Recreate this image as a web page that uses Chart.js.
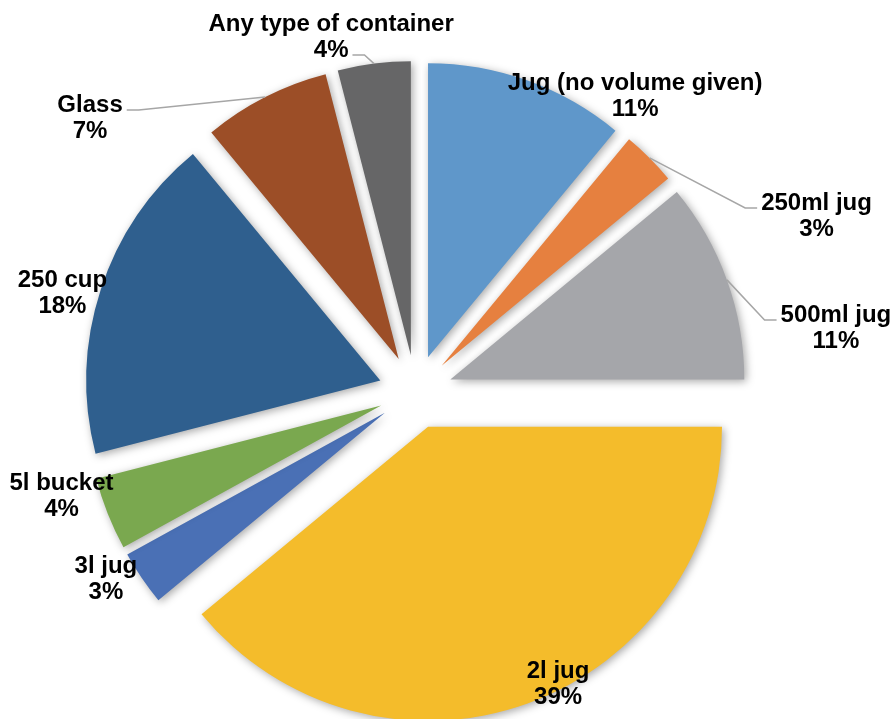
<!DOCTYPE html>
<html lang="en">
<head>
  <meta charset="UTF-8" />
  <title>Containers used</title>
  <script src="https://cdn.jsdelivr.net/npm/chart.js"></script>
  <style>
    body {
      margin: 0;
      background: #fff;
    }
    #wrap {
      width: 893px;
      height: 719px;
    }
  </style>
</head>
<body>
  <div id="wrap">
    <canvas id="containerChart" width="893" height="719"></canvas>
  </div>

  <script>
    const labels = ['Jug (no volume given)', '250ml jug', '500ml jug', '2l jug', '3l jug', '5l bucket', '250 cup', 'Glass', 'Any type of container'];
    const shares = [11, 3, 11, 39, 3, 4, 18, 7, 4];
    const colors = ['#5f97ca', '#e6803f', '#a5a6aa', '#f4bc2b', '#4a70b5', '#7aa84f', '#2f5f8e', '#9c4e27', '#666667'];

    // how far each slice is pulled out from the centre (px)
    const EXPLODE = 37;

    // label anchor (centre x, first baseline) in radius units from the pie centre
    const labelSpots = [
      [0.747, -1.027], [1.364, -0.619], [1.430, -0.238], [0.485, 0.973], [-1.053, 0.616],
      [-1.204, 0.333], [-1.201, -0.357], [-1.107, -0.952], [-0.287, -1.228]
    ];
    // leader lines: which text line they attach to and on which side of it
    const leaders = { 1: { line: 0, side: 'left' }, 2: { line: 0, side: 'left' }, 7: { line: 0, side: 'right' }, 8: { line: 1, side: 'right' } };

    const FONT = 'bold 24px "Liberation Sans", Arial, sans-serif';
    const LINE_H = 26;

    function midAngle(arc) {
      return (arc.startAngle + arc.endAngle) / 2;
    }

    // draw the slices ourselves so every slice moves out by the same amount
    const explodePlugin = {
      id: 'explode',
      beforeDatasetDraw(chart, args) {
        const ctx = chart.ctx;
        args.meta.data.forEach(arc => {
          const a = midAngle(arc);
          ctx.save();
          ctx.shadowColor = 'rgba(0,0,0,0.35)';
          ctx.shadowBlur = 8;
          ctx.shadowOffsetX = 2;
          ctx.shadowOffsetY = 2;
          ctx.translate(Math.cos(a) * EXPLODE, Math.sin(a) * EXPLODE);
          arc.draw(ctx);
          ctx.restore();
        });
        return false;
      }
    };

    const labelPlugin = {
      id: 'sliceLabels',
      afterDatasetsDraw(chart) {
        const ctx = chart.ctx;
        const arcs = chart.getDatasetMeta(0).data;
        const cx = arcs[0].x, cy = arcs[0].y, r = arcs[0].outerRadius;
        ctx.save();
        ctx.font = FONT;
        ctx.fillStyle = '#000';
        ctx.textAlign = 'center';
        ctx.textBaseline = 'alphabetic';

        arcs.forEach((arc, i) => {
          const lines = [labels[i], shares[i] + '%'];
          const x = cx + labelSpots[i][0] * r;
          const y = cy + labelSpots[i][1] * r;

          const ld = leaders[i];
          if (ld) {
            const a = midAngle(arc);
            const ex = cx + Math.cos(a) * (EXPLODE + r);
            const ey = cy + Math.sin(a) * (EXPLODE + r);
            const w = ctx.measureText(lines[ld.line]).width;
            const ly = y + ld.line * LINE_H - 2;
            const tx = ld.side === 'left' ? x - w / 2 - 4 : x + w / 2 + 4;
            const bx = ld.side === 'left' ? tx - 12 : tx + 12;
            ctx.beginPath();
            ctx.moveTo(ex, ey);
            ctx.lineTo(bx, ly);
            ctx.lineTo(tx, ly);
            ctx.strokeStyle = '#a6a6a6';
            ctx.lineWidth = 1.5;
            ctx.stroke();
          }

          lines.forEach((t, k) => ctx.fillText(t, x, y + k * LINE_H));
        });
        ctx.restore();
      }
    };

    new Chart(document.getElementById('containerChart'), {
      type: 'pie',
      data: {
        labels,
        datasets: [{
          data: shares,
          backgroundColor: colors,
          borderWidth: 0,
          hoverBorderWidth: 0,
          offset: 0,
          hoverOffset: 0
        }]
      },
      options: {
        responsive: false,
        animation: false,
        events: [],
        layout: {
          padding: { top: 98, bottom: 33, left: 121.5, right: 183.5 }
        },
        plugins: {
          legend: { display: false },
          tooltip: { enabled: false }
        }
      },
      plugins: [explodePlugin, labelPlugin]
    });
  </script>
</body>
</html>
